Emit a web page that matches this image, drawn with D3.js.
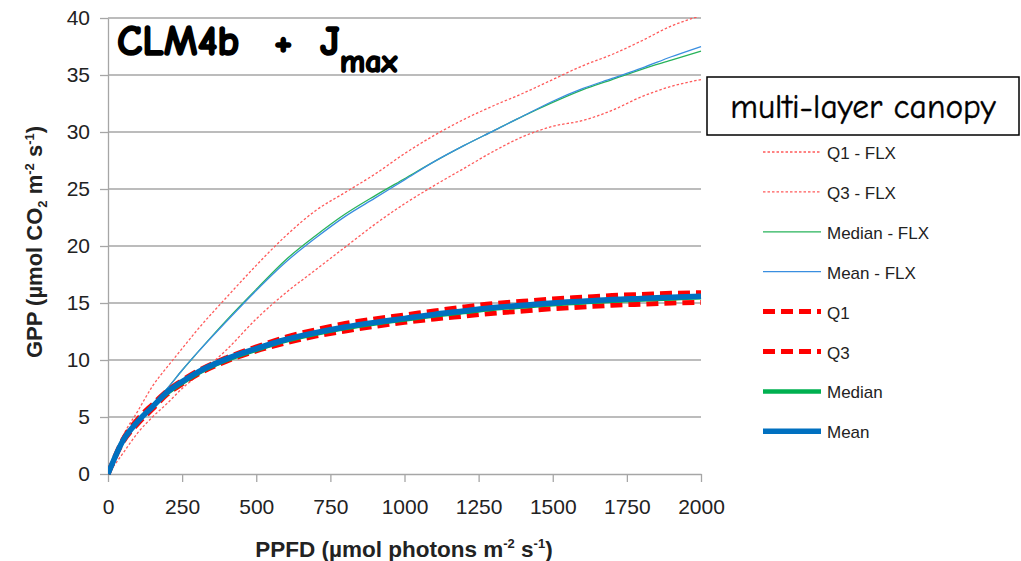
<!DOCTYPE html>
<html>
<head>
<meta charset="utf-8">
<script src="https://cdn.jsdelivr.net/npm/d3@7"></script>
<style>
  body { margin: 0; background: #fff; }
  svg { display: block; }
</style>
</head>
<body>
<div id="chart"></div>
<script>
// PPFD points (x) and GPP series (y)
var ppfd = [0, 50, 100, 150, 200, 250, 300, 400, 500, 600, 700, 800, 900, 1000, 1100, 1200, 1300, 1400, 1500, 1600, 1700, 1800, 1900, 2000]

var q1Flx = [0, 1.8, 3.6, 5.0, 6.2, 7.5, 8.6, 10.9, 13.6, 15.9, 17.9, 19.9, 21.9, 23.7, 25.3, 26.8, 28.3, 29.6, 30.5, 31.0, 31.9, 33.1, 34.0, 34.6]
var q3Flx = [0, 3.3, 5.5, 7.7, 9.4, 11.0, 12.6, 15.5, 18.3, 20.9, 23.1, 24.7, 26.3, 28.1, 29.7, 31.1, 32.3, 33.4, 34.6, 35.8, 36.8, 38.0, 39.3, 40.2]
var medianFlx = [0, 2.9, 4.7, 6.1, 7.5, 9.1, 10.6, 13.5, 16.2, 18.8, 20.9, 22.8, 24.4, 25.9, 27.4, 28.8, 30.1, 31.4, 32.6, 33.7, 34.6, 35.5, 36.3, 37.1]
var meanFlx = [0, 2.9, 4.7, 6.1, 7.5, 9.1, 10.6, 13.4, 16.1, 18.6, 20.7, 22.6, 24.2, 25.8, 27.4, 28.8, 30.1, 31.4, 32.7, 33.8, 34.7, 35.6, 36.6, 37.5]
var q1 = [0, 2.8, 4.4, 5.7, 7.0, 7.9, 8.7, 9.9, 10.8, 11.5, 12.1, 12.55, 12.95, 13.3, 13.6, 13.85, 14.1, 14.3, 14.5, 14.65, 14.8, 14.9, 15.0, 15.05]
var q3 = [0, 3.0, 4.8, 6.1, 7.3, 8.2, 9.0, 10.2, 11.15, 12.0, 12.65, 13.2, 13.6, 13.95, 14.3, 14.65, 14.95, 15.15, 15.35, 15.5, 15.65, 15.75, 15.85, 15.9]
var median = [0, 2.9, 4.6, 5.9, 7.1, 8.0, 8.8, 10.0, 10.9, 11.7, 12.3, 12.8, 13.2, 13.55, 13.9, 14.2, 14.5, 14.7, 14.9, 15.05, 15.2, 15.3, 15.4, 15.5]
var mean = [0, 2.9, 4.6, 5.9, 7.2, 8.1, 8.9, 10.1, 11.0, 11.8, 12.4, 12.9, 13.3, 13.65, 14.0, 14.3, 14.6, 14.8, 15.0, 15.15, 15.3, 15.4, 15.5, 15.6]

var seriesNames = ['Q1 - FLX', 'Q3 - FLX', 'Median - FLX', 'Mean - FLX', 'Q1', 'Q3', 'Median', 'Mean']
var xTicks = [0, 250, 500, 750, 1000, 1250, 1500, 1750, 2000]
var yTicks = [0, 5, 10, 15, 20, 25, 30, 35, 40]

var svgWidth = 1021
var svgHeight = 561
var plotLeft = 108, plotTop = 18, plotRight = 701, plotBottom = 474
var labelFont = 'Liberation Sans, Arial, sans-serif'
var handFont = '"Comic Sans MS", "Comic Neue", "DejaVu Sans", sans-serif'

// line styles, same order as seriesNames
var styles = [
  {color: '#ff5a5a', width: 1.3, dash: '2.5,2'},
  {color: '#ff5a5a', width: 1.3, dash: '2.5,2'},
  {color: '#27b35a', width: 1.3, dash: null},
  {color: '#3a8ee0', width: 1.3, dash: null},
  {color: '#ff0000', width: 5, dash: '12,6'},
  {color: '#ff0000', width: 5, dash: '12,6'},
  {color: '#00b050', width: 4.5, dash: null},
  {color: '#0070c0', width: 5.5, dash: null}
]
var values = [q1Flx, q3Flx, medianFlx, meanFlx, q1, q3, median, mean]

var svg = d3.select('#chart').append('svg')
  .attr('width', svgWidth)
  .attr('height', svgHeight)

var x = d3.scaleLinear().domain([0, 2000]).range([plotLeft, plotRight])
var y = d3.scaleLinear().domain([0, 40]).range([plotBottom, plotTop])

// horizontal gridlines
svg.append('g')
  .selectAll('line')
  .data(yTicks.filter(function(d) { return d > 0 }))
  .enter()
  .append('line')
    .attr('x1', plotLeft).attr('x2', plotRight)
    .attr('y1', function(d) { return y(d) }).attr('y2', function(d) { return y(d) })
    .attr('stroke', '#a6a6a6')
    .attr('stroke-width', 1.3)

// y axis
var yAxis = svg.append('g')
  .attr('transform', 'translate(' + plotLeft + ',0)')
  .call(d3.axisLeft(y).tickValues(yTicks).tickFormat(d3.format('d')).tickSize(8).tickPadding(10).tickSizeOuter(0))
yAxis.select('.domain').attr('stroke', '#a6a6a6').attr('stroke-width', 1.3)
yAxis.selectAll('.tick line').attr('stroke', '#a6a6a6').attr('stroke-width', 1.3)
yAxis.selectAll('.tick text')
  .attr('font-family', labelFont).attr('font-size', 21).attr('fill', '#222')

// x axis
var xAxis = svg.append('g')
  .attr('transform', 'translate(0,' + plotBottom + ')')
  .call(d3.axisBottom(x).tickValues(xTicks).tickFormat(d3.format('d')).tickSize(8).tickPadding(17).tickSizeOuter(0))
xAxis.select('.domain').attr('stroke', '#a6a6a6').attr('stroke-width', 1.3)
xAxis.selectAll('.tick line').attr('stroke', '#a6a6a6').attr('stroke-width', 1.3)
xAxis.selectAll('.tick text')
  .attr('font-family', labelFont).attr('font-size', 21).attr('fill', '#222')

// lines
svg.append('clipPath').attr('id', 'plotclip')
  .append('rect').attr('x', plotLeft).attr('y', plotTop - 1).attr('width', plotRight - plotLeft + 2).attr('height', plotBottom - plotTop + 2)

var line = d3.line()
  .x(function(d) { return x(d[0]) })
  .y(function(d) { return y(d[1]) })
  .curve(d3.curveMonotoneX)

var plot = svg.append('g').attr('clip-path', 'url(#plotclip)')
values.forEach(function(vals, i) {
  var pts = ppfd.map(function(p, j) { return [p, vals[j]] })
  plot.append('path')
    .attr('d', line(pts))
    .attr('fill', 'none')
    .attr('stroke', styles[i].color)
    .attr('stroke-width', styles[i].width)
    .attr('stroke-dasharray', styles[i].dash)
    .attr('stroke-linejoin', 'round')
})

// legend
var legend = svg.append('g')
seriesNames.forEach(function(name, i) {
  var ly = 152 + i * 39.9
  legend.append('line')
    .attr('x1', 763).attr('x2', 821)
    .attr('y1', ly).attr('y2', ly)
    .attr('stroke', styles[i].color)
    .attr('stroke-width', styles[i].width)
    .attr('stroke-dasharray', styles[i].dash)
  legend.append('text')
    .attr('x', 827).attr('y', ly + 7)
    .attr('font-family', labelFont).attr('font-size', 17).attr('fill', '#222')
    .text(name)
})

// axis titles
var yTitle = svg.append('text')
  .attr('transform', 'translate(42,242) rotate(-90)')
  .attr('text-anchor', 'middle')
  .attr('font-family', labelFont).attr('font-size', 22).attr('font-weight', 'bold').attr('fill', '#222')
yTitle.append('tspan').text('GPP (\u00b5mol CO')
yTitle.append('tspan').attr('font-size', 13).attr('dy', 5).text('2')
yTitle.append('tspan').attr('dy', -5).text(' m')
yTitle.append('tspan').attr('font-size', 13).attr('dy', -8).text('-2')
yTitle.append('tspan').attr('dy', 8).text(' s')
yTitle.append('tspan').attr('font-size', 13).attr('dy', -8).text('-1')
yTitle.append('tspan').attr('dy', 8).text(')')

var xTitle = svg.append('text')
  .attr('x', 404).attr('y', 557)
  .attr('text-anchor', 'middle')
  .attr('font-family', labelFont).attr('font-size', 22.5).attr('font-weight', 'bold').attr('fill', '#222')
xTitle.append('tspan').text('PPFD (\u00b5mol photons m')
xTitle.append('tspan').attr('font-size', 13).attr('dy', -9).text('-2')
xTitle.append('tspan').attr('dy', 9).text(' s')
xTitle.append('tspan').attr('font-size', 13).attr('dy', -9).text('-1')
xTitle.append('tspan').attr('dy', 9).text(')')

// title (stroke thickens the fallback hand font)
var title = svg.append('text')
  .attr('y', 55)
  .attr('font-family', handFont).attr('font-weight', 'bold').attr('font-size', 42)
  .attr('fill', '#000').attr('stroke', '#000').attr('stroke-width', 1.6)
title.append('tspan').attr('x', 117).text('CLM4b')
title.append('tspan').attr('x', 274).text('+')
title.append('tspan').attr('x', 320).text('J')
title.append('tspan').attr('dy', 17).attr('font-size', 32).text('max')

// box label
svg.append('rect')
  .attr('x', 707).attr('y', 77).attr('width', 312).attr('height', 58)
  .attr('fill', '#fff').attr('stroke', '#000').attr('stroke-width', 1.5)
svg.append('text')
  .attr('x', 863).attr('y', 118)
  .attr('text-anchor', 'middle')
  .attr('font-family', handFont).attr('font-size', 33.5).attr('fill', '#000')
  .attr('stroke', '#000').attr('stroke-width', 0.4)
  .text('multi-layer canopy')
</script>
</body>
</html>
